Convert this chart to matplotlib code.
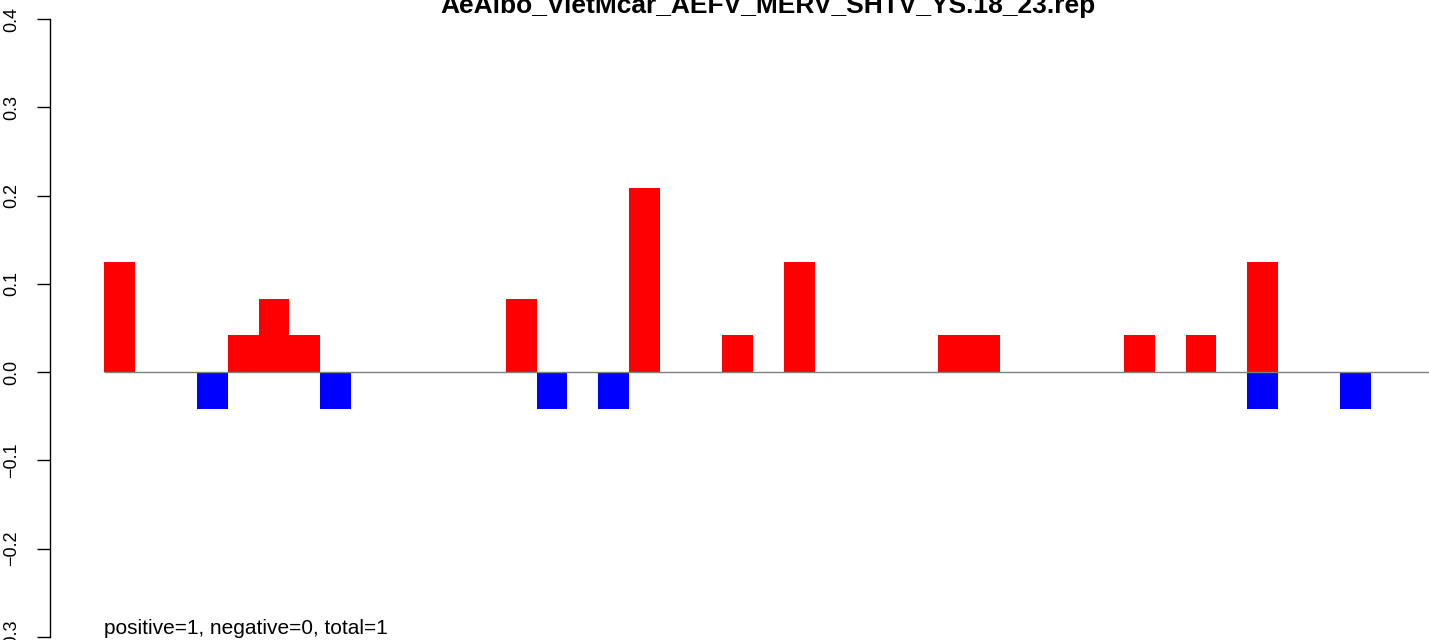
import matplotlib
matplotlib.use("Agg")
import matplotlib.pyplot as plt

plt.rcParams['font.family'] = ['Liberation Sans', 'DejaVu Sans']

title = "AeAlbo_VietMcar_AEFV_MERV_SHTV_YS.18_23.rep"
note = "positive=1, negative=0, total=1"

# one value per window, 43 windows
positive = [0.125, 0, 0, 0, 0.0417, 0.0833, 0.0417, 0, 0, 0,
            0, 0, 0, 0.0833, 0, 0, 0, 0.2083, 0, 0,
            0.0417, 0, 0.125, 0, 0, 0, 0, 0.0417, 0.0417, 0,
            0, 0, 0, 0.0417, 0, 0.0417, 0, 0.125, 0, 0,
            0, 0, 0]
negative = [0, 0, 0, -0.0417, 0, 0, 0, -0.0417, 0, 0,
            0, 0, 0, 0, -0.0417, 0, -0.0417, 0, 0, 0,
            0, 0, 0, 0, 0, 0, 0, 0, 0, 0,
            0, 0, 0, 0, 0, 0, 0, -0.0417, 0, 0,
            -0.0417, 0, 0]
y_ticks = [-0.3, -0.2, -0.1, 0.0, 0.1, 0.2, 0.3, 0.4]

W, H = 1429, 640
fig = plt.figure(figsize=(W / 100, H / 100), dpi=100)
ax = fig.add_axes([50 / W, 1 - 637 / H, (W - 50) / W, (637 - 19) / H])

x = list(range(len(positive)))
ax.bar(x, positive, width=1, align='edge', color='#ff0000', linewidth=0)
ax.bar(x, negative, width=1, align='edge', color='#0000ff', linewidth=0)

x_right = (W - 104) / 30.9
ax.hlines(0, 0, x_right, color='#808080', linewidth=1)

ax.set_xlim(-(104 - 50) / 30.9, x_right)
ax.set_ylim(-0.3, 0.4)

for s in ['top', 'right', 'bottom']:
    ax.spines[s].set_visible(False)
ax.spines['left'].set_linewidth(1)
ax.set_xticks([])
ax.set_yticks(y_ticks)
ax.set_yticklabels([("%.1f" % v).replace("-", "\u2212") for v in y_ticks],
                   rotation=90, va='center')
ax.tick_params(axis='y', length=9.4, width=1, pad=12, labelsize=13)

fig.text(768 / W, 1 - 13 / H, title, ha='center', va='baseline',
         fontsize=19, fontweight='bold')
fig.text(104 / W, 1 - 634 / H, note, ha='left', va='baseline', fontsize=15)

fig.savefig("out.png", dpi=100)
